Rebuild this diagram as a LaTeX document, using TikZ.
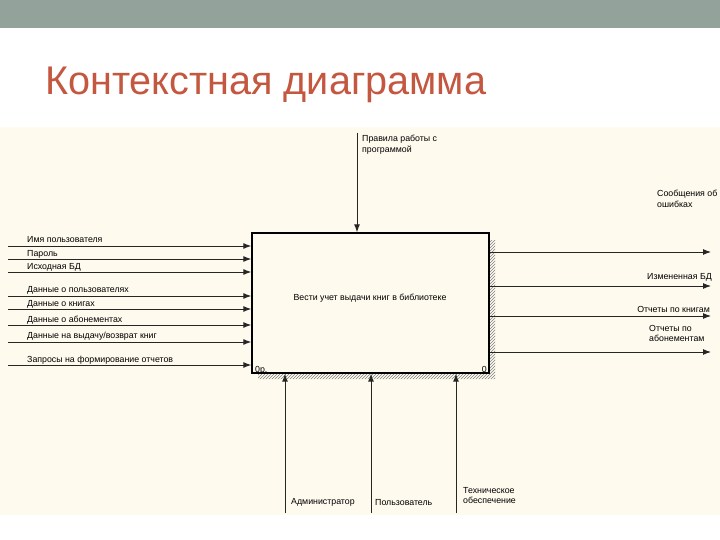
\documentclass[tikz,border=0pt]{standalone}
\usepackage{fontspec}
\setmainfont{Liberation Sans}
\usetikzlibrary{arrows.meta,patterns}
\definecolor{barcol}{HTML}{93A29A}
\definecolor{titlecol}{HTML}{C4573F}
\definecolor{paper}{HTML}{FEFAEE}
\tikzset{
  flow/.style={draw=black!85, line width=1pt, -{Latex[length=8pt,width=6pt]}},
  lbl/.style={font=\fontsize{8.8}{10.5}\selectfont, inner sep=0pt, anchor=west, align=left},
}
\begin{document}
\begin{tikzpicture}[x=1pt,y=-1pt]
    \useasboundingbox (0,0) rectangle (720,540);
    % slide background
    \fill[barcol] (0,0) rectangle (720,28);
    \fill[paper] (0,127) rectangle (720,515);
    \node[titlecol, anchor=base west, inner sep=0pt, font=\fontsize{40}{44}\selectfont, xscale=0.99] (title) at (45,95) {Контекстная диаграмма};

    % function block with its shadow
    \fill[pattern=north east lines, pattern color=gray] (489,240) -- (495,240) -- (495,379) -- (258,379) -- (258,373) -- (489,373) -- cycle;
    \node[draw, line width=1.4pt, fill=paper, minimum width=237pt, minimum height=140pt, inner sep=0pt] (box) at (370.5,303) {};
    \node[font=\fontsize{8.8}{10.5}\selectfont, inner sep=0pt] (func) at (370,298) {Вести учет выдачи книг в библиотеке};
    \node[font=\fontsize{8.8}{10.5}\selectfont, inner sep=0pt, anchor=base west] (num) at (255,372) {0р.};
    \node[font=\fontsize{8.8}{10.5}\selectfont, inner sep=0pt, anchor=base east] (cost) at (487,372) {0};

    % inputs
    \coordinate (in1) at (8,246);
    \coordinate (in2) at (8,259);
    \coordinate (in3) at (8,272);
    \coordinate (in4) at (8,296);
    \coordinate (in5) at (8,309);
    \coordinate (in6) at (8,325);
    \coordinate (in7) at (8,342);
    \coordinate (in8) at (8,365);
    \draw[flow] (in1) -- (in1 -| box.west);
    \draw[flow] (in2) -- (in2 -| box.west);
    \draw[flow] (in3) -- (in3 -| box.west);
    \draw[flow] (in4) -- (in4 -| box.west);
    \draw[flow] (in5) -- (in5 -| box.west);
    \draw[flow] (in6) -- (in6 -| box.west);
    \draw[flow] (in7) -- (in7 -| box.west);
    \draw[flow] (in8) -- (in8 -| box.west);
    \node[lbl] (in1l) at (27,240) {Имя пользователя};
    \node[lbl] (in2l) at (27,254) {Пароль};
    \node[lbl] (in3l) at (27,267) {Исходная БД};
    \node[lbl] (in4l) at (27,290) {Данные о пользователях};
    \node[lbl] (in5l) at (27,304) {Данные о книгах};
    \node[lbl] (in6l) at (27,320) {Данные о абонементах};
    \node[lbl] (in7l) at (27,336) {Данные на выдачу/возврат книг};
    \node[lbl] (in8l) at (27,360) {Запросы на формирование отчетов};

    % control
    \coordinate (ctl) at (357,133);
    \draw[flow] (ctl) -- (box.north -| ctl);
    \node[lbl, anchor=north west] (ctll) at (362,135) {Правила работы с\\программой};

    % outputs
    \coordinate (out1) at (711,252);
    \coordinate (out2) at (711,286);
    \coordinate (out3) at (711,316);
    \coordinate (out4) at (711,352);
    \draw[flow] (out1 -| box.east) -- (out1);
    \draw[flow] (out2 -| box.east) -- (out2);
    \draw[flow] (out3 -| box.east) -- (out3);
    \draw[flow] (out4 -| box.east) -- (out4);
    \node[lbl, anchor=north west] (out1l) at (657,190) {Сообщения об\\ошибках};
    \node[lbl, anchor=east] (out2l) at (712,277) {Измененная БД};
    \node[lbl, anchor=east] (out3l) at (710,309) {Отчеты по книгам};
    \node[lbl, anchor=north west] (out4l) at (649,325) {Отчеты по\\абонементам};

    % mechanisms
    \coordinate (mech1) at (285,513);
    \coordinate (mech2) at (371,513);
    \coordinate (mech3) at (456,513);
    \draw[flow] (mech1) -- (box.south -| mech1);
    \draw[flow] (mech2) -- (box.south -| mech2);
    \draw[flow] (mech3) -- (box.south -| mech3);
    \node[lbl] (mech1l) at (291,502) {Администратор};
    \node[lbl] (mech2l) at (375,503) {Пользователь};
    \node[lbl, anchor=north west] (mech3l) at (463,487) {Техническое\\обеспечение};
\end{tikzpicture}
\end{document}
